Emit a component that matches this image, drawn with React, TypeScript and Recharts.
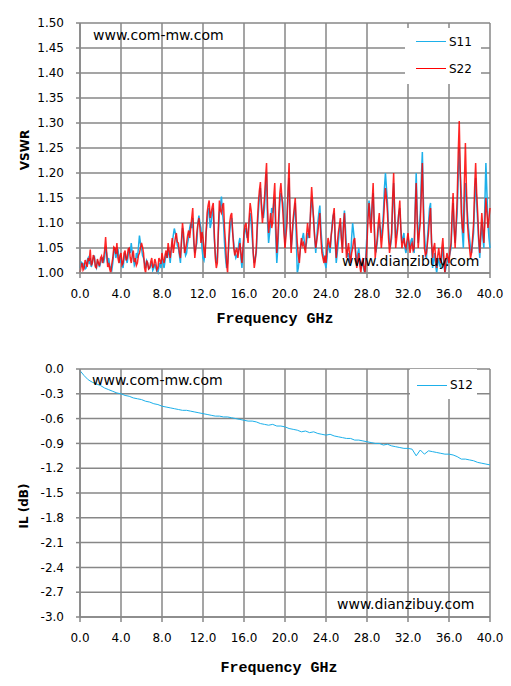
import React from 'react';
import { LineChart, Line, XAxis, YAxis, CartesianGrid, Legend } from 'recharts';

// VSWR sampled every 0.1 GHz, 0.0 .. 40.0 (one row = 1 GHz)
const VSWR_STEP = 0.1;

const s11 = [
  1.01, 1.022, 1.02, 1.012, 1.02, 1.008, 1.01, 1.025, 1.03, 1.018,
  1.03, 1.012, 1.02, 1.03, 1.035, 1.015, 1.01, 1.024, 1.02, 1.012,
  1.02, 1.028, 1.03, 1.02, 1.03, 1.05, 1.04, 1.02, 1.03, 1.015,
  1.01, 1.005, 1.02, 1.042, 1.05, 1.03, 1.04, 1.048, 1.03, 1.02,
  1.03, 1.02, 1.01, 1.028, 1.04, 1.03, 1.02, 1.035, 1.05, 1.04,
  1.06, 1.04, 1.03, 1.015, 1.02, 1.04, 1.03, 1.05, 1.075, 1.06,
  1.05, 1.035, 1.03, 1.02, 1.01, 1.025, 1.02, 1.008, 1.01, 1.015,
  1.02, 1.005, 1.01, 1.018, 1.01, 1.003, 1.0, 1.012, 1.02, 1.01,
  1.03, 1.02, 1.01, 1.025, 1.04, 1.03, 1.05, 1.035, 1.02, 1.045,
  1.06, 1.075, 1.089, 1.08, 1.07, 1.055, 1.05, 1.035, 1.02, 1.06,
  1.09, 1.07, 1.05, 1.035, 1.04, 1.06, 1.07, 1.09, 1.1, 1.09,
  1.11, 1.06, 1.04, 1.05, 1.06, 1.1, 1.115, 1.1, 1.09, 1.05,
  1.03, 1.025, 1.04, 1.08, 1.1, 1.125, 1.13, 1.09, 1.1, 1.12,
  1.13, 1.07, 1.04, 1.02, 1.03, 1.08, 1.12, 1.135, 1.153, 1.12,
  1.1, 1.06, 1.03, 1.01, 1.02, 1.05, 1.08, 1.1, 1.11, 1.08,
  1.06, 1.04, 1.03, 1.035, 1.04, 1.06, 1.07, 1.03, 1.01, 1.04,
  1.07, 1.085, 1.09, 1.07, 1.08, 1.1, 1.12, 1.1, 1.07, 1.04,
  1.02, 1.03, 1.04, 1.09, 1.12, 1.15, 1.17, 1.14, 1.12, 1.11,
  1.13, 1.17, 1.2, 1.1, 1.06, 1.08, 1.1, 1.13, 1.12, 1.14,
  1.15, 1.07, 1.02, 1.05, 1.1, 1.14, 1.16, 1.15, 1.14, 1.09,
  1.06, 1.09, 1.12, 1.16, 1.19, 1.09, 1.05, 1.07, 1.1, 1.12,
  1.14, 1.07, 1.0, 1.01, 1.03, 1.05, 1.06, 1.07, 1.08, 1.06,
  1.05, 1.06, 1.08, 1.07, 1.09, 1.12, 1.15, 1.13, 1.11, 1.07,
  1.04, 1.07, 1.1, 1.12, 1.135, 1.09, 1.06, 1.04, 1.03, 1.02,
  1.01, 1.03, 1.06, 1.05, 1.04, 1.07, 1.1, 1.115, 1.12, 1.06,
  1.02, 1.04, 1.06, 1.085, 1.1, 1.07, 1.05, 1.1, 1.125, 1.09,
  1.05, 1.035, 1.04, 1.02, 1.03, 1.07, 1.1, 1.08, 1.06, 1.04,
  1.02, 1.04, 1.05, 1.025, 1.01, 1.015, 1.02, 1.005, 1.0, 1.04,
  1.08, 1.12, 1.145, 1.12, 1.1, 1.13, 1.16, 1.1, 1.05, 1.045,
  1.06, 1.085, 1.1, 1.09, 1.07, 1.09, 1.12, 1.17, 1.2, 1.17,
  1.14, 1.09, 1.06, 1.055, 1.07, 1.13, 1.18, 1.12, 1.07, 1.08,
  1.1, 1.12, 1.13, 1.09, 1.06, 1.07, 1.08, 1.05, 1.04, 1.055,
  1.07, 1.06, 1.05, 1.065, 1.07, 1.05, 1.04, 1.13, 1.2, 1.12,
  1.06, 1.09, 1.12, 1.19, 1.242, 1.15, 1.08, 1.05, 1.03, 1.07,
  1.1, 1.13, 1.14, 1.06, 1.01, 1.025, 1.04, 1.015, 1.0, 1.02,
  1.03, 1.015, 1.01, 1.035, 1.05, 1.02, 1.0, 1.01, 1.02, 1.03,
  1.03, 1.04, 1.05, 1.1, 1.14, 1.09, 1.06, 1.09, 1.12, 1.19,
  1.25, 1.2, 1.16, 1.08, 1.05, 1.12, 1.18, 1.15, 1.12, 1.09,
  1.07, 1.05, 1.04, 1.06, 1.08, 1.14, 1.19, 1.14, 1.1, 1.06,
  1.03, 1.07, 1.1, 1.07, 1.05, 1.14, 1.22, 1.16, 1.1, 1.07,
  1.05,
];

const s22 = [
  1.0, 1.012, 1.02, 1.006, 1.01, 1.026, 1.02, 1.012, 1.03, 1.024,
  1.047, 1.015, 1.02, 1.036, 1.03, 1.012, 1.01, 1.028, 1.02, 1.014,
  1.03, 1.034, 1.02, 1.03, 1.045, 1.072, 1.04, 1.012, 1.02, 1.008,
  1.0, 1.018, 1.03, 1.052, 1.05, 1.038, 1.06, 1.03, 1.02, 1.035,
  1.04, 1.016, 1.02, 1.04, 1.045, 1.025, 1.03, 1.048, 1.05, 1.03,
  1.02, 1.036, 1.045, 1.022, 1.03, 1.015, 1.02, 1.035, 1.04, 1.05,
  1.06, 1.052, 1.04, 1.01, 1.0, 1.025, 1.02, 1.008, 1.01, 1.022,
  1.03, 1.01, 1.015, 1.028, 1.02, 1.006, 1.01, 1.03, 1.025, 1.018,
  1.04, 1.028, 1.02, 1.036, 1.045, 1.03, 1.06, 1.045, 1.03, 1.05,
  1.07, 1.04, 1.055, 1.07, 1.08, 1.062, 1.06, 1.04, 1.03, 1.065,
  1.1, 1.08, 1.04, 1.048, 1.06, 1.075, 1.085, 1.07, 1.09, 1.11,
  1.13, 1.07, 1.03, 1.05, 1.08, 1.098, 1.11, 1.09, 1.06, 1.082,
  1.07, 1.045, 1.03, 1.08, 1.12, 1.135, 1.145, 1.11, 1.12, 1.132,
  1.14, 1.08, 1.03, 1.01, 1.02, 1.09, 1.145, 1.125, 1.12, 1.135,
  1.14, 1.09, 1.06, 1.02, 1.0, 1.06, 1.1, 1.115, 1.12, 1.08,
  1.05, 1.035, 1.045, 1.05, 1.03, 1.045, 1.06, 1.04, 1.02, 1.05,
  1.08, 1.095, 1.1, 1.075, 1.06, 1.11, 1.14, 1.125, 1.1, 1.04,
  1.01, 1.025, 1.05, 1.1, 1.14, 1.165, 1.182, 1.13, 1.1, 1.125,
  1.15, 1.19, 1.22, 1.13, 1.08, 1.1, 1.12, 1.09, 1.1, 1.15,
  1.18, 1.1, 1.04, 1.07, 1.12, 1.16, 1.18, 1.15, 1.12, 1.08,
  1.05, 1.075, 1.1, 1.17, 1.22, 1.1, 1.04, 1.08, 1.11, 1.13,
  1.15, 1.1, 1.06, 1.035, 1.02, 1.05, 1.07, 1.055, 1.06, 1.05,
  1.04, 1.075, 1.1, 1.08, 1.07, 1.13, 1.172, 1.14, 1.1, 1.07,
  1.05, 1.065, 1.08, 1.1, 1.12, 1.07, 1.04, 1.03, 1.02, 1.035,
  1.02, 1.05, 1.07, 1.06, 1.05, 1.075, 1.09, 1.115, 1.13, 1.07,
  1.03, 1.06, 1.08, 1.095, 1.11, 1.07, 1.04, 1.09, 1.12, 1.07,
  1.03, 1.045, 1.06, 1.035, 1.02, 1.04, 1.05, 1.065, 1.07, 1.035,
  1.01, 1.025, 1.04, 1.015, 1.0, 1.02, 1.03, 1.012, 1.0, 1.025,
  1.06, 1.11, 1.14, 1.1, 1.08, 1.14, 1.18, 1.1, 1.03, 1.05,
  1.07, 1.1, 1.12, 1.08, 1.05, 1.075, 1.1, 1.14, 1.17, 1.15,
  1.12, 1.07, 1.04, 1.06, 1.08, 1.15, 1.2, 1.12, 1.05, 1.07,
  1.09, 1.12, 1.145, 1.09, 1.05, 1.06, 1.07, 1.055, 1.05, 1.065,
  1.08, 1.06, 1.04, 1.055, 1.06, 1.045, 1.05, 1.12, 1.18, 1.1,
  1.05, 1.08, 1.1, 1.16, 1.22, 1.12, 1.05, 1.035, 1.04, 1.06,
  1.08, 1.11, 1.13, 1.06, 1.03, 1.05, 1.06, 1.025, 1.01, 1.035,
  1.05, 1.03, 1.02, 1.05, 1.07, 1.03, 1.0, 1.025, 1.04, 1.03,
  1.02, 1.045, 1.06, 1.12, 1.16, 1.09, 1.05, 1.1, 1.15, 1.24,
  1.304, 1.2, 1.12, 1.09, 1.08, 1.18, 1.26, 1.17, 1.1, 1.07,
  1.05, 1.03, 1.04, 1.07, 1.1, 1.17, 1.22, 1.16, 1.12, 1.07,
  1.04, 1.08, 1.12, 1.09, 1.06, 1.1, 1.15, 1.12, 1.09, 1.11,
  1.13,
];

// insertion loss sampled every 0.4 GHz
const IL_STEP = 0.4;

const s12 = [
  -0.02, -0.08, -0.13, -0.16, -0.18, -0.2, -0.23, -0.25, -0.27, -0.29,
  -0.3, -0.32, -0.33, -0.35, -0.36, -0.37, -0.39, -0.4, -0.42, -0.43,
  -0.45, -0.46, -0.47, -0.48, -0.49, -0.5, -0.5, -0.51, -0.52, -0.53,
  -0.54, -0.55, -0.56, -0.57, -0.57, -0.58, -0.58, -0.59, -0.6, -0.61,
  -0.62, -0.63, -0.63, -0.64, -0.66, -0.67, -0.68, -0.67, -0.69, -0.69,
  -0.7, -0.72, -0.73, -0.74, -0.76, -0.75, -0.77, -0.76, -0.78, -0.79,
  -0.8, -0.79, -0.81, -0.82, -0.83, -0.84, -0.84, -0.86, -0.86, -0.87,
  -0.88, -0.89, -0.9, -0.9, -0.92, -0.91, -0.93, -0.94, -0.95, -0.96,
  -0.96, -0.97, -1.05, -0.98, -1.03, -0.99, -1.0, -1.01, -1.02, -1.03,
  -1.03, -1.04, -1.06, -1.09, -1.09, -1.1, -1.11, -1.13, -1.14, -1.15,
  -1.16,
];

const freqTicks = [0, 4, 8, 12, 16, 20, 24, 28, 32, 36, 40];
const vswrTicks = [1.0, 1.05, 1.1, 1.15, 1.2, 1.25, 1.3, 1.35, 1.4, 1.45, 1.5];
const ilTicks = [-3.0, -2.7, -2.4, -2.1, -1.8, -1.5, -1.2, -0.9, -0.6, -0.3, 0];

const vswrData = s11.map((v, i) => ({ f: +(i * VSWR_STEP).toFixed(1), S11: v, S22: s22[i] }));
const ilData = s12.map((v, i) => ({ f: +(i * IL_STEP).toFixed(1), S12: v }));

const BLUE = '#1DB0EA';
const RED = '#FF0000';
const GRID = '#878787';

const tickStyle = { fill: '#000', fontSize: 12, fontFamily: 'DejaVu Sans' };

const LegendBox = ({ payload, rowH, padLeft }: any) => (
  <div style={{ background: '#fff', width: '100%', height: '100%', paddingLeft: padLeft, boxSizing: 'border-box' }}>
    {(payload || []).map((p: any) => (
      <div key={p.value} style={{ display: 'flex', alignItems: 'center', height: rowH }}>
        <span style={{ width: 30, borderTop: `1.5px solid ${p.color}`, marginRight: 3 }} />
        <span style={{ fontFamily: 'DejaVu Sans', fontSize: 12, color: '#000' }}>{p.value}</span>
      </div>
    ))}
  </div>
);

const xTitle = (dx: number, dy: number) => ({ viewBox }: any) => (
  <text
    x={viewBox.x + viewBox.width / 2 + dx}
    y={viewBox.y + dy}
    textAnchor="middle"
    dominantBaseline="central"
    style={{ fontFamily: 'Liberation Mono', fontWeight: 'bold', fontSize: 15, fill: '#000' }}
  >
    Frequency GHz
  </text>
);

const yTitle = (text: string, x: number, y: number) => () => (
  <text
    x={x}
    y={y}
    transform={`rotate(-90, ${x}, ${y})`}
    textAnchor="middle"
    dominantBaseline="central"
    style={{ fontFamily: 'DejaVu Sans', fontWeight: 'bold', fontSize: 12, fill: '#000' }}
  >
    {text}
  </text>
);

const watermark = (left: number, top: number, text: string) => (
  <div
    style={{
      position: 'absolute',
      left,
      top,
      fontFamily: 'DejaVu Sans',
      fontSize: 14,
      lineHeight: '16px',
      color: '#000',
      whiteSpace: 'nowrap',
      pointerEvents: 'none',
    }}
  >
    {text}
  </div>
);

export default function App() {
  return (
    <div style={{ position: 'absolute', left: 0, top: 0, width: 511, height: 686, background: '#fff' }}>
      <div style={{ position: 'absolute', left: 0, top: 0 }}>
        <LineChart width={511} height={343} data={vswrData} margin={{ top: 23, right: 21, bottom: 40, left: 20 }}>
          <CartesianGrid stroke={GRID} strokeWidth={1.5} />
          <XAxis
            type="number"
            dataKey="f"
            domain={[0, 40]}
            ticks={freqTicks}
            interval={0}
            tickFormatter={(v: number) => v.toFixed(1)}
            tick={tickStyle}
            tickSize={5}
            tickMargin={11}
            height={30}
            axisLine={{ stroke: GRID, strokeWidth: 1.5 }}
            tickLine={{ stroke: GRID, strokeWidth: 1.5 }}
            label={{ content: xTitle(-10, 46) }}
          />
          <YAxis
            type="number"
            domain={[1, 1.5]}
            ticks={vswrTicks}
            interval={0}
            tickFormatter={(v: number) => v.toFixed(2)}
            tick={tickStyle}
            tickSize={4}
            tickMargin={12}
            width={60}
            axisLine={{ stroke: GRID, strokeWidth: 1.5 }}
            tickLine={{ stroke: GRID, strokeWidth: 1.5 }}
            label={{ content: yTitle('VSWR', 25, 150) }}
          />
          <Legend
            layout="vertical"
            align="center"
            verticalAlign="middle"
            wrapperStyle={{ left: 405, top: 28, width: 76, height: 56 }}
            content={(props: any) => <LegendBox {...props} rowH={27.3} padLeft={11} />}
          />
          <Line type="linear" dataKey="S11" stroke={BLUE} strokeWidth={1.5} dot={false} isAnimationActive={false} />
          <Line type="linear" dataKey="S22" stroke={RED} strokeOpacity={0.85} strokeWidth={1.5} dot={false} isAnimationActive={false} />
        </LineChart>
        {watermark(93, 27, 'www.com-mw.com')}
        {watermark(342, 253, 'www.dianzibuy.com')}
      </div>
      <div style={{ position: 'absolute', left: 0, top: 343 }}>
        <LineChart width={511} height={343} data={ilData} margin={{ top: 26, right: 21, bottom: 39, left: 20 }}>
          <CartesianGrid stroke={GRID} strokeWidth={1.5} />
          <XAxis
            type="number"
            dataKey="f"
            domain={[0, 40]}
            ticks={freqTicks}
            interval={0}
            tickFormatter={(v: number) => v.toFixed(1)}
            tick={tickStyle}
            tickSize={5}
            tickMargin={11}
            height={30}
            axisLine={{ stroke: GRID, strokeWidth: 1.5 }}
            tickLine={{ stroke: GRID, strokeWidth: 1.5 }}
            label={{ content: xTitle(-6, 51) }}
          />
          <YAxis
            type="number"
            domain={[-3, 0]}
            ticks={ilTicks}
            interval={0}
            tickFormatter={(v: number) => v.toFixed(1)}
            tick={tickStyle}
            tickSize={4}
            tickMargin={12}
            width={60}
            axisLine={{ stroke: GRID, strokeWidth: 1.5 }}
            tickLine={{ stroke: GRID, strokeWidth: 1.5 }}
            label={{ content: yTitle('IL (dB)', 24, 163) }}
          />
          <Legend
            layout="vertical"
            align="center"
            verticalAlign="middle"
            wrapperStyle={{ left: 410, top: 26, width: 67, height: 30 }}
            content={(props: any) => <LegendBox {...props} rowH={32} padLeft={7} />}
          />
          <Line type="linear" dataKey="S12" stroke={BLUE} strokeWidth={1} dot={false} isAnimationActive={false} />
        </LineChart>
        {watermark(92, 29, 'www.com-mw.com')}
        {watermark(337, 253, 'www.dianzibuy.com')}
      </div>
    </div>
  );
}
